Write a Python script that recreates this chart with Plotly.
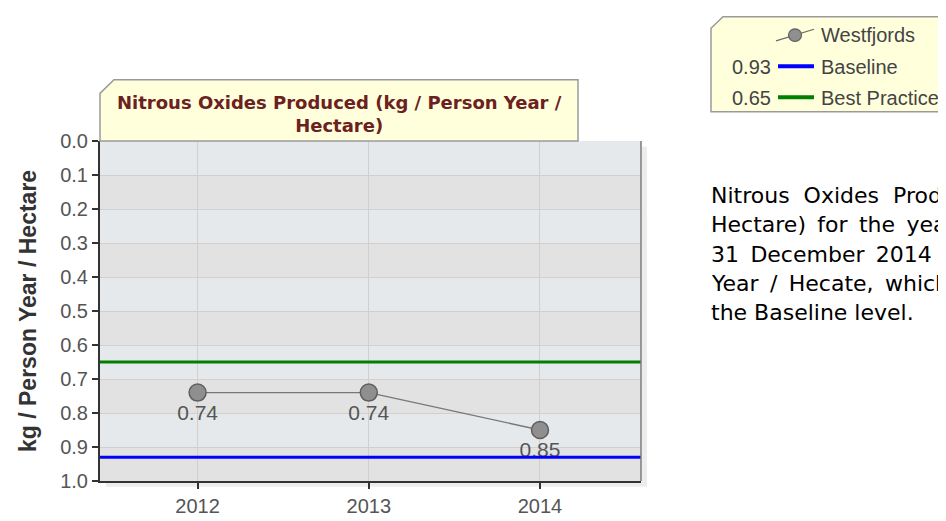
"""
Nitrous Oxides Produced - Westfjords
"""
import plotly.graph_objects as go

# data
years = [2012, 2013, 2014]
westfjords = [0.74, 0.74, 0.85]
baseline = 0.93
best_practice = 0.65
y_ticks = [0.0, 0.1, 0.2, 0.3, 0.4, 0.5, 0.6, 0.7, 0.8, 0.9, 1.0]

title_lines = ["Nitrous Oxides Produced (kg / Person Year /", "Hectare)"]
y_title = "kg / Person Year / Hectare"
series_name = "Westfjords"
baseline_name = "Baseline"
best_name = "Best Practice"

NB2 = "\u00a0\u00a0"  # wide gap (justified text)
NBT = "\u00a0\u2009"
summary_lines = [
    NB2.join("Nitrous Oxides Produced (kg / Person Year /".split(" ")),
    NBT.join("Hectare) for the year ending".split(" ")),
    NBT.join("31 December 2014 was 0.85 kg / Person".split(" ")),
    NBT.join("Year / Hecate, which is better than".split(" ")),
    "the Baseline level.",
]

W, H = 946, 521
L, R, T, B = 92, 633, 133, 483  # plot area in pixels


def px(x):
    return (x - L) / (R - L)


def py(y):
    return (B - y) / (B - T)


FONT = "Liberation Sans, Arial, sans-serif"
VERDANA = "DejaVu Sans, Verdana, sans-serif"

fig = go.Figure()

shapes = []
# drop shadow of the plot area
shapes.append(dict(type="rect", xref="paper", yref="paper", layer="below", line_width=0,
                   x0=px(634), x1=px(639), y0=py(488), y1=py(139), fillcolor="#ececec"))
shapes.append(dict(type="rect", xref="paper", yref="paper", layer="below", line_width=0,
                   x0=px(98), x1=px(639), y0=py(489), y1=py(484), fillcolor="#ececec"))

# background bands
for i in range(len(y_ticks) - 1):
    shapes.append(
        dict(
            type="rect", xref="x domain", yref="y", layer="below", line_width=0,
            x0=0, x1=1, y0=y_ticks[i], y1=y_ticks[i + 1],
            fillcolor="#e6e9ec" if i % 2 == 0 else "#e2e2e2",
        )
    )

# reference lines
shapes.append(dict(type="line", xref="x domain", yref="y", x0=0, x1=1,
                   y0=best_practice, y1=best_practice, line=dict(color="#008000", width=3)))
shapes.append(dict(type="line", xref="x domain", yref="y", x0=0, x1=1,
                   y0=baseline, y1=baseline, line=dict(color="#0000ff", width=3)))

# right border of plot
shapes.append(dict(type="line", xref="paper", yref="paper", x0=1, x1=1, y0=0, y1=1,
                   line=dict(color="#7a7a7a", width=1.5)))


def chamfer_box(x0, y0, x1, y1, c):
    return (f"M {px(x0)},{py(y0 + c)} L {px(x0 + c)},{py(y0)} L {px(x1)},{py(y0)} "
            f"L {px(x1)},{py(y1)} L {px(x0)},{py(y1)} Z")


# title box
shapes.append(dict(type="path", xref="paper", yref="paper", path=chamfer_box(92, 70, 570, 133, 14),
                   fillcolor="#ffffdc", line=dict(color="#9a9a9a", width=1.5)))
# legend box
shapes.append(dict(type="path", xref="paper", yref="paper", path=chamfer_box(703, 5, 945, 103, 12),
                   fillcolor="#ffffdc", line=dict(color="#9a9a9a", width=1.5)))
# legend icons
shapes.append(dict(type="line", xref="paper", yref="paper", x0=px(768), x1=px(806), y0=py(30), y1=py(18),
                   line=dict(color="#6a6a6a", width=1.2)))
shapes.append(dict(type="circle", xref="paper", yref="paper", x0=px(780.5), x1=px(793.5), y0=py(30.5),
                   y1=py(17.5), fillcolor="#8f8f8f", line=dict(color="#5f5f5f", width=1.2)))
shapes.append(dict(type="line", xref="paper", yref="paper", x0=px(770), x1=px(806), y0=py(56), y1=py(56),
                   line=dict(color="#0000ff", width=4)))
shapes.append(dict(type="line", xref="paper", yref="paper", x0=px(770), x1=px(806), y0=py(88), y1=py(88),
                   line=dict(color="#008000", width=4)))

fig.add_trace(
    go.Scatter(
        x=years, y=westfjords, mode="lines+markers+text", name=series_name,
        text=[f"{v:.2f}" for v in westfjords], textposition="bottom center",
        textfont=dict(family=FONT, size=21, color="#555555"),
        line=dict(color="#777777", width=1.3),
        marker=dict(size=17, color="#8f8f8f", line=dict(color="#5f5f5f", width=1.5)),
        showlegend=False, cliponaxis=False,
    )
)

legend_font = dict(family=FONT, size=20, color="#444444")
annotations = [
    dict(text="<b>" + "<br>".join(title_lines) + "</b>", xref="paper", yref="paper",
         x=px(331), y=py(105), xanchor="center", yanchor="middle", showarrow=False,
         font=dict(family=VERDANA, size=18, color="#6b2121")),
    dict(text="<b>" + y_title + "</b>", xref="paper", yref="paper", textangle=-90,
         x=px(20), y=py(308), xanchor="center", yanchor="middle", showarrow=False,
         font=dict(family=FONT, size=23, color="#333333")),
    dict(text=series_name, xref="paper", yref="paper", x=px(811), y=py(24), xanchor="left",
         yanchor="middle", showarrow=False, font=legend_font),
    dict(text=f"{baseline:.2f}", xref="paper", yref="paper", x=px(765), y=py(57), xanchor="right",
         yanchor="middle", showarrow=False, font=legend_font),
    dict(text=baseline_name, xref="paper", yref="paper", x=px(811), y=py(57), xanchor="left",
         yanchor="middle", showarrow=False, font=legend_font),
    dict(text=f"{best_practice:.2f}", xref="paper", yref="paper", x=px(765), y=py(89), xanchor="right",
         yanchor="middle", showarrow=False, font=legend_font),
    dict(text=best_name, xref="paper", yref="paper", x=px(811), y=py(89), xanchor="left",
         yanchor="middle", showarrow=False, font=legend_font),
]
for i, line in enumerate(summary_lines):
    annotations.append(
        dict(text=line, xref="paper", yref="paper", x=px(701), y=py(189 + 30.2 * i),
             xanchor="left", yanchor="middle", align="left", showarrow=False,
             font=dict(family=VERDANA, size=22, color="#000000"))
    )

fig.update_layout(
    width=W, height=H,
    margin=dict(l=L, r=W - R, t=T, b=H - B, pad=0),
    paper_bgcolor="white", plot_bgcolor="#e6e9ec",
    shapes=shapes, annotations=annotations, showlegend=False,
    font=dict(family=FONT, color="#555555"),
)
fig.update_xaxes(
    range=[2011.43, 2014.59], tickmode="array", tickvals=years, ticktext=[str(y) for y in years],
    showgrid=True, gridcolor="#d0d0d0", gridwidth=1, zeroline=False,
    showline=True, linecolor="#333333", linewidth=2, ticks="outside", ticklen=6,
    tickcolor="#333333", tickwidth=2, tickfont=dict(size=20, color="#555555"),
)
fig.update_yaxes(
    range=[1.0, 0.0], tickmode="array", tickvals=y_ticks, ticktext=[f"{v:.1f}" for v in y_ticks],
    showgrid=True, gridcolor="#d0d0d0", gridwidth=1, zeroline=False,
    showline=True, linecolor="#333333", linewidth=2, ticks="outside", ticklen=6,
    tickcolor="#333333", tickwidth=2, tickfont=dict(size=20, color="#555555"),
)

fig.write_html("out.html")
